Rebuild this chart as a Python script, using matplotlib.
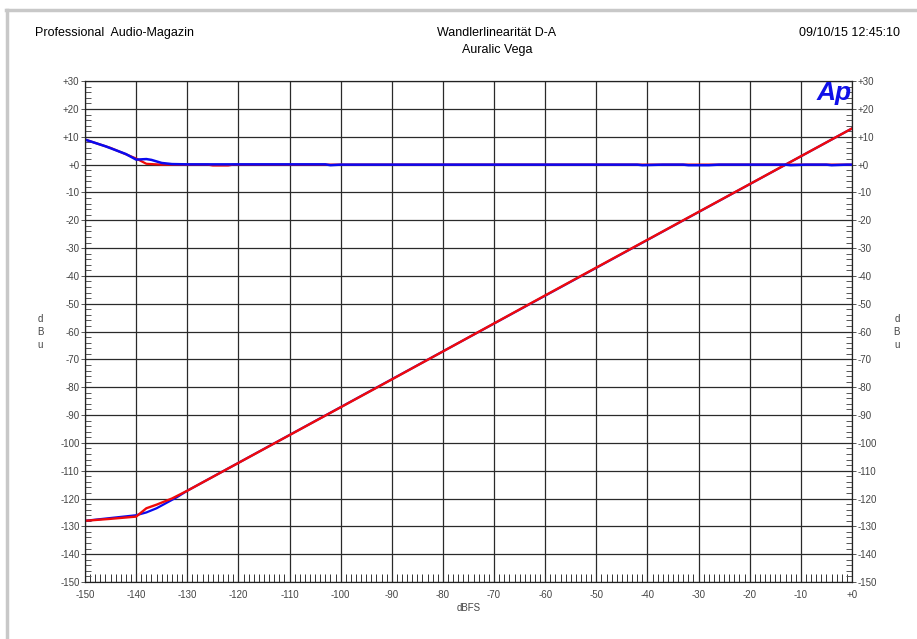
import matplotlib
matplotlib.use("Agg")
import matplotlib.pyplot as plt
from matplotlib.ticker import MultipleLocator, FuncFormatter
from matplotlib.lines import Line2D

plt.rcParams['font.family'] = ['Liberation Sans', 'DejaVu Sans']

# deviation traces (top), dBu vs dBFS
dev_x_red = [-150, -145, -140, -138, -135, -133, -126, -125, -122, -121, -110, 0]
dev_y_red = [9.0, 6.0, 2.2, 0.3, 0.0, 0.0, 0.0, -0.3, -0.3, 0.0, 0.0, 0.0]
dev_x_blue = [-150, -146, -142, -140, -138, -137, -135, -133, -130, -103, -102, -100,
              -42, -41, -37, -33, -32, -28, -26, -25, -13, -12, -9, -5, -4, -1, 0]
dev_y_blue = [9.0, 6.6, 3.8, 1.8, 2.0, 1.7, 0.6, 0.2, 0.1, 0.1, -0.2, 0.0,
              0.0, -0.2, 0.0, 0.0, -0.2, -0.2, 0.0, 0.0, 0.0, -0.2, 0.0, 0.0, -0.2, 0.0, 0.0]

# linearity traces (bottom)
lin_x_blue = [-150, -145, -140, -138, -136, -134, -132, -130, 0]
lin_y_blue = [-128.0, -127.0, -126.0, -125.0, -123.5, -121.5, -119.5, -117.2, 13.0]
lin_x_red = [-150, -145, -140, -138, -136, -133, -130, -90, -60, 0]
lin_y_red = [-128.0, -127.3, -126.5, -123.5, -122.2, -120.0, -117.2, -77.2, -47.0, 13.0]

BLUE = '#0a0af0'
RED = '#f00a0a'

fig = plt.figure(figsize=(9.17, 6.39), dpi=100)
ax = fig.add_axes([0.0927, 0.0892, 0.8364, 0.7838])

ax.plot(lin_x_blue, lin_y_blue, color=BLUE, lw=1.6)
ax.plot(lin_x_red, lin_y_red, color=RED, lw=1.7)
ax.plot(dev_x_red, dev_y_red, color=RED, lw=1.6)
ax.plot(dev_x_blue, dev_y_blue, color=BLUE, lw=1.8)

ax.set_xlim(-150, 0)
ax.set_ylim(-150, 30)

ax.xaxis.set_major_locator(MultipleLocator(10))
ax.xaxis.set_minor_locator(MultipleLocator(1))
ax.yaxis.set_major_locator(MultipleLocator(10))
ax.yaxis.set_minor_locator(MultipleLocator(2))

fmt = FuncFormatter(lambda v, p: '+0' if v == 0 else ('%+d' % v))
ax.xaxis.set_major_formatter(fmt)
ax.yaxis.set_major_formatter(fmt)

ax.grid(which='major', color='#2a2a2a', lw=0.9)
ax.tick_params(axis='x', which='minor', direction='in', length=6, width=0.7, color='#333333')
ax.tick_params(axis='x', which='major', direction='in', length=0, labelsize=7,
               labelcolor='#444444', pad=6)
ax.tick_params(axis='y', which='minor', direction='in', length=4, width=0.7,
               color='#555555', left=True, right=True)
ax.tick_params(axis='y', which='major', direction='out', length=3, width=0.7, color='#555555',
               left=True, right=True, labelleft=True, labelright=True, labelsize=7,
               labelcolor='#444444', pad=1)
for s in ax.spines.values():
    s.set_color('#222222')
    s.set_linewidth(0.9)

ax.set_xlabel('dBFS', fontsize=7, color='#444444', labelpad=2)
fig.text(0.0436, 0.48, 'd\nB\nu', fontsize=7, color='#444444', ha='center', va='center',
         linespacing=1.4)
fig.text(0.978, 0.48, 'd\nB\nu', fontsize=7, color='#444444', ha='center', va='center',
         linespacing=1.4)

ax.text(0.999, 1.0, 'Ap', transform=ax.transAxes, ha='right', va='top', fontsize=19,
        fontweight='bold', fontstyle='italic', color='#1010e8')

fig.text(0.038, 0.948, 'Professional  Audio-Magazin', fontsize=9, ha='left', va='center')
fig.text(0.542, 0.948, 'Wandlerlinearität D-A', fontsize=9, ha='center', va='center')
fig.text(0.542, 0.922, 'Auralic Vega', fontsize=9, ha='center', va='center')
fig.text(0.982, 0.948, '09/10/15 12:45:10', fontsize=9, ha='right', va='center')

# grey frame lines along top and left
fig.add_artist(Line2D([0.006, 1.0], [0.984, 0.984], color='#c8c8c8', lw=2.5))
fig.add_artist(Line2D([0.008, 0.008], [0.0, 0.984], color='#c8c8c8', lw=2.5))

fig.savefig('out.png', dpi=100)
